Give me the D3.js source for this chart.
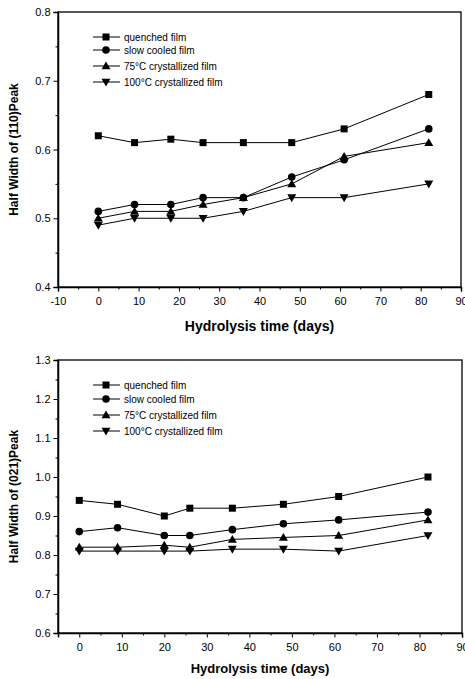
<!DOCTYPE html>
<html lang="en">
  <head>
    <meta charset="utf-8">
    <title>Half width vs hydrolysis time</title>
    <script src="https://cdn.jsdelivr.net/npm/d3@7"></script>
    <style>
      body { margin: 0; background: white; }
      svg { font-family: "Liberation Sans", Arial, sans-serif; }
      .tick text { font-size: 11px; fill: black; }
      .tick line, .domain { stroke: black; }
    </style>
  </head>
  <body>
    <script>
      // data
      var seriesNames = ["quenched film", "slow cooled film", "75°C crystallized film", "100°C crystallized film"];
      var symbols = ["square", "circle", "up", "down"];

      var days110 = [0, 9, 18, 26, 36, 48, 61, 82];
      var quenched110 = [0.62, 0.61, 0.615, 0.61, 0.61, 0.61, 0.63, 0.68];
      var slow110 = [0.51, 0.52, 0.52, 0.53, 0.53, 0.56, 0.585, 0.63];
      var c75_110 = [0.50, 0.51, 0.51, 0.52, 0.53, 0.55, 0.59, 0.61];
      var c100_110 = [0.49, 0.50, 0.50, 0.50, 0.51, 0.53, 0.53, 0.55];

      var days021 = [0, 9, 20, 26, 36, 48, 61, 82];
      var quenched021 = [0.94, 0.93, 0.90, 0.92, 0.92, 0.93, 0.95, 1.00];
      var slow021 = [0.86, 0.87, 0.85, 0.85, 0.865, 0.88, 0.89, 0.91];
      var c75_021 = [0.82, 0.82, 0.825, 0.82, 0.84, 0.845, 0.85, 0.89];
      var c100_021 = [0.81, 0.81, 0.81, 0.81, 0.815, 0.815, 0.81, 0.85];

      var xTicks110 = [-10, 0, 10, 20, 30, 40, 50, 60, 70, 80, 90];
      var yTicks110 = [0.4, 0.5, 0.6, 0.7, 0.8];
      var xTicks021 = [0, 10, 20, 30, 40, 50, 60, 70, 80, 90];
      var yTicks021 = [0.6, 0.7, 0.8, 0.9, 1.0, 1.1, 1.2, 1.3];

      var svg = d3.select("body").append("svg")
                  .attr("width", 465)
                  .attr("height", 679);

      var panels = [
        { box: {left: 58, right: 461, top: 12, bottom: 287},
          xDomain: [-10, 90], yDomain: [0.4, 0.8],
          xTicks: xTicks110, yTicks: yTicks110,
          days: days110, values: [quenched110, slow110, c75_110, c100_110],
          yTitle: "Half Width of (110)Peak", xTitle: "Hydrolysis time (days)",
          xTitleY: 331, xTitleSize: 14, legendTop: 37, legendGap: [0, 13, 29, 45] },
        { box: {left: 58, right: 462, top: 360, bottom: 633},
          xDomain: [-5, 90], yDomain: [0.6, 1.3],
          xTicks: xTicks021, yTicks: yTicks021,
          days: days021, values: [quenched021, slow021, c75_021, c100_021],
          yTitle: "Half Width of (021)Peak", xTitle: "Hydrolysis time (days)",
          xTitleY: 673, xTitleSize: 13, legendTop: 385, legendGap: [0, 14, 30, 46] }
      ];

      function marker(sel, type) {
        if (type == "square") {
          sel.append("rect").attr("x", -3.5).attr("y", -3.5).attr("width", 7).attr("height", 7);
        } else if (type == "circle") {
          sel.append("circle").attr("r", 3.8);
        } else if (type == "up") {
          sel.append("path").attr("d", "M0,-4.5L4.5,3.3L-4.5,3.3Z");
        } else {
          sel.append("path").attr("d", "M0,4.5L4.5,-3.3L-4.5,-3.3Z");
        }
        sel.attr("fill", "black");
      }

      panels.forEach(function(p) {
        var x = d3.scaleLinear().domain(p.xDomain).range([p.box.left, p.box.right]);
        var y = d3.scaleLinear().domain(p.yDomain).range([p.box.bottom, p.box.top]);
        var g = svg.append("g");

        // frame
        g.append("rect")
         .attr("x", p.box.left).attr("y", p.box.top)
         .attr("width", p.box.right - p.box.left).attr("height", p.box.bottom - p.box.top)
         .attr("fill", "none").attr("stroke", "black").attr("stroke-width", 1.3);

        // minor ticks
        var xMinor = d3.range(p.xDomain[0], p.xDomain[1] + 0.1, 5).filter(v => p.xTicks.indexOf(v) < 0);
        var yMinor = d3.range(p.yDomain[0] + 0.05, p.yDomain[1], 0.1);
        g.append("g").attr("transform", "translate(0," + p.box.bottom + ")")
         .call(d3.axisBottom(x).tickValues(xMinor).tickSize(2.5).tickFormat(""));
        g.append("g").attr("transform", "translate(" + p.box.left + ",0)")
         .call(d3.axisLeft(y).tickValues(yMinor).tickSize(2.5).tickFormat(""));

        // major ticks (plain hyphen for negatives, as in the figure)
        g.append("g").attr("transform", "translate(0," + p.box.bottom + ")")
         .call(d3.axisBottom(x).tickValues(p.xTicks).tickSize(4.5).tickPadding(6).tickFormat(d => String(d)))
         .call(a => a.select(".domain").attr("stroke-width", 1.5));
        g.append("g").attr("transform", "translate(" + p.box.left + ",0)")
         .call(d3.axisLeft(y).tickValues(p.yTicks).tickSize(4.5).tickPadding(3).tickFormat(d3.format(".1f")))
         .call(a => a.select(".domain").attr("stroke-width", 1.5));

        g.selectAll(".domain").attr("fill", "none");

        // series
        var line = d3.line().x(d => x(d[0])).y(d => y(d[1]));
        p.values.forEach(function(vals, i) {
          var pts = p.days.map((d, j) => [d, vals[j]]);
          g.append("path").datum(pts)
           .attr("d", line).attr("fill", "none").attr("stroke", "black").attr("stroke-width", 1);
          g.selectAll(null).data(pts).enter().append("g")
           .attr("transform", d => "translate(" + x(d[0]) + "," + y(d[1]) + ")")
           .each(function() { marker(d3.select(this), symbols[i]); });
        });

        // legend
        seriesNames.forEach(function(name, i) {
          var ly = p.legendTop + p.legendGap[i];
          g.append("line").attr("x1", 93).attr("x2", 120).attr("y1", ly).attr("y2", ly)
           .attr("stroke", "black").attr("stroke-width", 1);
          var m = g.append("g").attr("transform", "translate(106," + ly + ")");
          marker(m, symbols[i]);
          g.append("text").attr("x", 124).attr("y", ly + 3.5)
           .attr("font-size", 10).text(name);
        });

        // axis titles
        g.append("text")
         .attr("transform", "translate(18," + ((p.box.top + p.box.bottom) / 2) + ") rotate(-90)")
         .attr("text-anchor", "middle").attr("font-weight", "bold").attr("font-size", 12)
         .text(p.yTitle);
        g.append("text")
         .attr("x", (p.box.left + p.box.right) / 2).attr("y", p.xTitleY)
         .attr("text-anchor", "middle").attr("font-weight", "bold").attr("font-size", p.xTitleSize)
         .text(p.xTitle);
      });
    </script>
  </body>
</html>
